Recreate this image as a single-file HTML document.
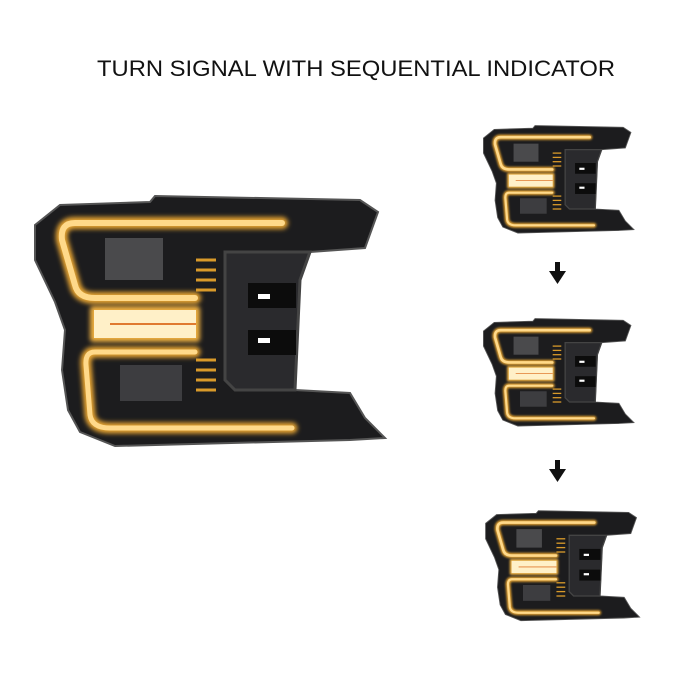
<!DOCTYPE html>
<html><head><style>
html,body{margin:0;padding:0;background:#fff;width:700px;height:700px;overflow:hidden}
</style></head><body>
<svg width="700" height="700" viewBox="0 0 700 700" xmlns="http://www.w3.org/2000/svg">
<defs>
<filter id="glow" x="-20%" y="-20%" width="140%" height="140%"><feGaussianBlur stdDeviation="2.5"/></filter>
<g id="lamp">
  <path d="M15,35 L40,15 L130,12 L135,6 L340,10 L358,22 L345,58 L290,62 L280,90 L275,200 L330,203 L345,228 L365,248 L330,250 L95,256 L60,242 L48,220 L42,180 L45,140 L35,112 L15,70 Z" fill="#1c1c1e" stroke="#555" stroke-width="2"/>
  <path d="M205,62 L290,62 L280,90 L275,200 L215,200 L205,190 Z" fill="#2a2a2d" stroke="#444" stroke-width="3"/>
  <rect x="228" y="93" width="48" height="25" fill="#0c0c0c"/>
  <rect x="238" y="104" width="12" height="5" fill="#fff"/>
  <rect x="228" y="140" width="48" height="25" fill="#0c0c0c"/>
  <rect x="238" y="148" width="12" height="5" fill="#fff"/>
  <rect x="85" y="48" width="58" height="42" fill="#4a4a4c"/>
  <rect x="100" y="175" width="62" height="36" fill="#3d3d40"/>
  <g stroke="#d99a2a" stroke-width="3">
    <line x1="176" y1="70" x2="196" y2="70"/><line x1="176" y1="80" x2="196" y2="80"/><line x1="176" y1="90" x2="196" y2="90"/><line x1="176" y1="100" x2="196" y2="100"/><line x1="176" y1="170" x2="196" y2="170"/><line x1="176" y1="180" x2="196" y2="180"/><line x1="176" y1="190" x2="196" y2="190"/><line x1="176" y1="200" x2="196" y2="200"/>
  </g>
  <g fill="none" stroke-linecap="round">
    <path d="M262,33 L55,33 Q40,33 42,50 L55,95 Q58,108 75,108 L175,108" stroke="#e8a530" stroke-width="12" filter="url(#glow)"/>
    <path d="M262,33 L55,33 Q40,33 42,50 L55,95 Q58,108 75,108 L175,108" stroke="#ffd98a" stroke-width="6"/>
    <path d="M175,162 L75,162 Q65,162 66,175 L70,225 Q72,238 90,238 L272,238" stroke="#e8a530" stroke-width="11" filter="url(#glow)"/>
    <path d="M175,162 L75,162 Q65,162 66,175 L70,225 Q72,238 90,238 L272,238" stroke="#ffd98a" stroke-width="5"/>
  </g>
  <rect x="70" y="116" width="110" height="36" rx="3" fill="#f0b040" filter="url(#glow)"/>
  <rect x="74" y="120" width="102" height="28" fill="#fff0c8"/>
  <line x1="90" y1="134" x2="176" y2="134" stroke="#e07a30" stroke-width="2"/>
</g>
</defs>
<text x="356" y="76" text-anchor="middle" font-family="Liberation Sans, sans-serif" font-size="22" fill="#111" textLength="518" lengthAdjust="spacingAndGlyphs">TURN SIGNAL WITH SEQUENTIAL INDICATOR</text>
<use href="#lamp" transform="translate(20,190)"/>
<use href="#lamp" transform="translate(477,123) scale(0.43)"/>
<use href="#lamp" transform="translate(477,316) scale(0.43)"/>
<use href="#lamp" transform="translate(479,508) scale(0.44)"/>
<g fill="#111">
  <rect x="555" y="262" width="5" height="10"/><polygon points="549,271 566,271 557.5,284"/>
  <rect x="555" y="460" width="5" height="10"/><polygon points="549,469 566,469 557.5,482"/>
</g>
</svg>
</body></html>
